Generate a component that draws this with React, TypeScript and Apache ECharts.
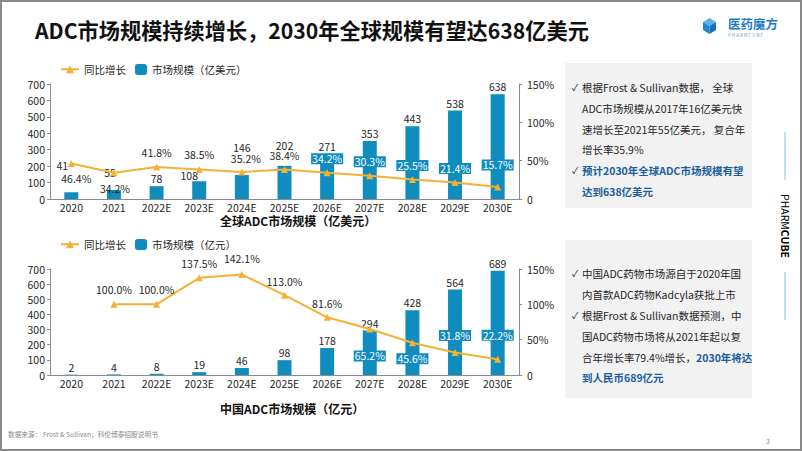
import React, { useEffect, useRef } from 'react';
import * as echarts from 'echarts';

// ---- data ----
const years = ['2020', '2021', '2022E', '2023E', '2024E', '2025E', '2026E', '2027E', '2028E', '2029E', '2030E'];
const globalSize = [41, 55, 78, 108, 146, 202, 271, 353, 443, 538, 638];
const globalGrowth = [46.4, 34.2, 41.8, 38.5, 35.2, 38.4, 34.2, 30.3, 25.5, 21.4, 15.7];
const chinaSize = [2, 4, 8, 19, 46, 98, 178, 294, 428, 564, 689];
const chinaGrowth: (number | null)[] = [null, 100.0, 100.0, 137.5, 142.1, 113.0, 81.6, 65.2, 45.6, 31.8, 22.2];
const sizeAxis = { min: 0, max: 700, interval: 100 };
const growthAxis = { min: 0, max: 150, interval: 50 };

// ---- label placement (style) ----
const gBarOff = [[-9, -20], [-4, -10], [0, 0], [-10, 1], [0, -20], [0, -13], [0, -1], [0, 0], [0, 0], [0, 0], [0, 0]];
const gLinePos = ['bottom', 'bottom', 'top', 'top', 'top', 'top', 'top', 'top', 'top', 'top', 'top'];
const gLineOff = [[5, 1], [1, 2], [0, -1], [0, -1], [4, 0], [0, 0], [0, 0], [0, 0], [0, 0], [0, 0], [0, -8]];
const gLineBox = [false, false, false, false, false, false, true, true, true, true, true];
const cLinePos = ['top', 'top', 'top', 'top', 'top', 'top', 'top', 'bottom', 'bottom', 'top', 'top'];
const cLineOff = [[0, 0], [0, -1], [0, -1], [0, -1], [0, -2], [0, 0], [0, 0], [0, 13], [0, 2], [0, -3], [0, -10]];
const cLineBox = [false, false, false, false, false, false, false, true, true, true, true];

const BLUE = '#108CBE';
const GOLD = '#F5B132';
const TXT = '#262626';
const FONT = '"Noto Sans CJK SC", "Noto Sans", sans-serif';
const DARKBLUE = '#1B5E9B';

function lineLabel(pos: string, off: number[], box: boolean) {
  const base: any = { position: pos, offset: off };
  if (box) {
    base.backgroundColor = BLUE;
    base.color = '#fff';
    base.padding = [0, 1];
    base.lineHeight = 11;
  }
  return base;
}

function buildOption() {
  const axisLabel = { fontSize: 10.5, color: TXT, fontFamily: FONT };
  const axisLine = { show: true, lineStyle: { color: '#8c8c8c', width: 1 } };
  const grids = [
    { left: 50, right: 283, top: 84, bottom: 252 },
    { left: 50, right: 283, top: 269, bottom: 76 },
  ];
  const xAxes = grids.map((_, i) => ({
    type: 'category',
    gridIndex: i,
    data: years,
    axisLine,
    axisTick: { show: false },
    axisLabel: { ...axisLabel, margin: 3 },
  }));
  const yAxes: any[] = [];
  grids.forEach((_, i) => {
    yAxes.push({
      type: 'value', gridIndex: i, position: 'left', ...sizeAxis,
      axisLine, axisTick: { show: true, length: 3, lineStyle: { color: '#8c8c8c' } },
      splitLine: { show: false },
      axisLabel: { ...axisLabel, margin: 5 },
    });
    yAxes.push({
      type: 'value', gridIndex: i, position: 'right', ...growthAxis,
      axisLine, axisTick: { show: true, length: 3, lineStyle: { color: '#8c8c8c' } },
      splitLine: { show: false },
      axisLabel: { ...axisLabel, margin: 8, formatter: (v: number) => (v === 0 ? '0' : v + '%') },
    });
  });

  const barLabel = { show: true, position: 'top', distance: 2, fontSize: 10.5, color: TXT, fontFamily: FONT };
  const lineLabelBase = {
    show: true, fontSize: 10.5, color: TXT, fontFamily: FONT,
    formatter: (p: any) => (p.value == null ? '' : Number(p.value).toFixed(1) + '%'),
  };

  const series: any[] = [
    {
      type: 'bar', name: '市场规模（亿美元）', xAxisIndex: 0, yAxisIndex: 0, barWidth: 14,
      itemStyle: { color: BLUE }, label: barLabel,
      data: globalSize.map((v, i) => ({ value: v, label: { offset: gBarOff[i] } })),
    },
    {
      type: 'line', name: '同比增长', xAxisIndex: 0, yAxisIndex: 1, symbol: 'triangle', symbolSize: 7,
      lineStyle: { color: GOLD, width: 2 }, itemStyle: { color: GOLD }, z: 5,
      label: lineLabelBase,
      data: globalGrowth.map((v, i) => ({ value: v, label: lineLabel(gLinePos[i], gLineOff[i], gLineBox[i]) })),
    },
    {
      type: 'bar', name: '市场规模（亿元）', xAxisIndex: 1, yAxisIndex: 2, barWidth: 14,
      itemStyle: { color: BLUE }, label: barLabel,
      data: chinaSize.map((v) => ({ value: v })),
    },
    {
      type: 'line', name: '同比增长', xAxisIndex: 1, yAxisIndex: 3, symbol: 'triangle', symbolSize: 7,
      lineStyle: { color: GOLD, width: 2 }, itemStyle: { color: GOLD }, z: 5,
      label: lineLabelBase,
      data: chinaGrowth.map((v, i) => ({ value: v, label: lineLabel(cLinePos[i], cLineOff[i], cLineBox[i]) })),
    },
  ];

  const legendText = { fontSize: 10.5, color: TXT, fontFamily: FONT };
  const legend = [
    { data: ['同比增长'], left: 55, top: 59, itemWidth: 18, itemHeight: 10, textStyle: legendText },
    { data: ['市场规模（亿美元）'], left: 130, top: 59, itemWidth: 12, itemHeight: 11, textStyle: legendText },
    { data: ['同比增长'], left: 55, top: 234, itemWidth: 18, itemHeight: 10, textStyle: legendText },
    { data: ['市场规模（亿元）'], left: 130, top: 234, itemWidth: 12, itemHeight: 11, textStyle: legendText },
  ];

  const t = (x: number, y: number, text: string, extra: any = {}) => ({
    type: 'text', x, y, silent: true,
    style: { text, fill: TXT, fontSize: 10.5, fontFamily: FONT, align: 'left', verticalAlign: 'middle', ...extra },
  });

  const graphic: any[] = [
    // frame
    { type: 'rect', shape: { x: 1, y: 1, width: 800, height: 449 }, style: { fill: 'none', stroke: '#8a8a8a', lineWidth: 2 }, silent: true },
    // title
    t(35, 29, 'ADC市场规模持续增长，2030年全球规模有望达638亿美元', { fontSize: 21.2, fontWeight: 'bold', fill: '#111' }),
    // logo cube
    { type: 'polygon', shape: { points: [[709.5, 18], [716, 22], [709.5, 26], [703, 22]] }, style: { fill: '#5DB2E6' } },
    { type: 'polygon', shape: { points: [[703, 22], [709.5, 26], [709.5, 34], [703, 30]] }, style: { fill: '#1F86CC' } },
    { type: 'polygon', shape: { points: [[709.5, 26], [716, 22], [716, 30], [709.5, 34]] }, style: { fill: '#1672B8' } },
    t(728, 23, '医药魔方', { fontSize: 12.5, fill: '#1E7CC0', fontWeight: 'bold' }),
    t(728, 34.5, 'P H A R M C U B E', { fontSize: 4.5, fill: '#5A9BCB' }),
    // sub titles
    t(220, 220, '全球ADC市场规模（亿美元）', { fontSize: 12, fontWeight: 'bold', fill: '#111' }),
    t(220, 408, '中国ADC市场规模（亿元）', { fontSize: 12, fontWeight: 'bold', fill: '#111' }),
    // text boxes
    { type: 'rect', shape: { x: 565, y: 63, width: 187, height: 145 }, style: { fill: '#F2F2F2' }, silent: true },
    { type: 'rect', shape: { x: 565, y: 240, width: 187, height: 158 }, style: { fill: '#F2F2F2' }, silent: true },
    t(572, 87, '✓', { fontSize: 9 }),
    t(582, 87, '根据Frost & Sullivan数据， 全球'),
    t(582, 108, 'ADC市场规模从2017年16亿美元快'),
    t(582, 129, '速增长至2021年55亿美元， 复合年'),
    t(582, 149, '增长率35.9%'),
    t(572, 170, '✓', { fontSize: 9 }),
    t(582, 170, '预计2030年全球ADC市场规模有望', { fontWeight: 'bold', fill: DARKBLUE }),
    t(582, 191, '达到638亿美元', { fontWeight: 'bold', fill: DARKBLUE }),
    t(572, 273, '✓', { fontSize: 9 }),
    t(582, 273, '中国ADC药物市场源自于2020年国'),
    t(582, 294, '内首款ADC药物Kadcyla获批上市'),
    t(572, 315, '✓', { fontSize: 9 }),
    t(582, 315, '根据Frost & Sullivan数据预测，中'),
    t(582, 336, '国ADC药物市场将从2021年起以复'),
    {
      type: 'text', x: 582, y: 357, silent: true,
      style: {
        text: '{n|合年增长率79.4%增长，}{b|2030年将达}', align: 'left', verticalAlign: 'middle',
        rich: {
          n: { fontSize: 10.5, fontFamily: FONT, fill: TXT, color: TXT },
          b: { fontSize: 10.5, fontFamily: FONT, fontWeight: 'bold', fill: DARKBLUE, color: DARKBLUE },
        },
      },
    },
    t(582, 377, '到人民币689亿元', { fontWeight: 'bold', fill: DARKBLUE }),
    // right side brand
    { type: 'line', shape: { x1: 785, y1: 132, x2: 785, y2: 180 }, style: { stroke: '#7EC3EA', lineWidth: 1 } },
    { type: 'line', shape: { x1: 785, y1: 272, x2: 785, y2: 320 }, style: { stroke: '#7EC3EA', lineWidth: 1 } },
    {
      type: 'text', x: 785, y: 226, rotation: -Math.PI / 2, silent: true,
      style: {
        text: '{a|PHARM}{b|CUBE}', align: 'center', verticalAlign: 'middle',
        rich: {
          a: { fontSize: 10.5, fontFamily: FONT, color: '#3BA3DC', fontWeight: 'normal' },
          b: { fontSize: 10.5, fontFamily: FONT, color: '#1E90D6', fontWeight: 'bold' },
        },
      },
    },
    // footer
    t(8, 434, '数据来源： Frost & Sullivan；科伦博泰招股说明书', { fontSize: 6.7, fill: '#8a8a8a' }),
    t(766, 441, '3', { fontSize: 7, fill: '#8a8a8a' }),
  ];

  return {
    animation: false,
    backgroundColor: '#ffffff',
    textStyle: { fontFamily: FONT },
    grid: grids,
    xAxis: xAxes,
    yAxis: yAxes,
    legend,
    series,
    graphic,
  };
}

export default function App() {
  const ref = useRef<HTMLDivElement>(null);
  useEffect(() => {
    if (!ref.current) return;
    const chart = echarts.init(ref.current, undefined, { renderer: 'svg' });
    chart.setOption(buildOption() as any);
    return () => chart.dispose();
  }, []);
  return (
    <div style={{ position: 'absolute', left: 0, top: 0, width: 802, height: 451, background: '#fff' }}>
      <div ref={ref} style={{ width: 802, height: 451 }} />
    </div>
  );
}
